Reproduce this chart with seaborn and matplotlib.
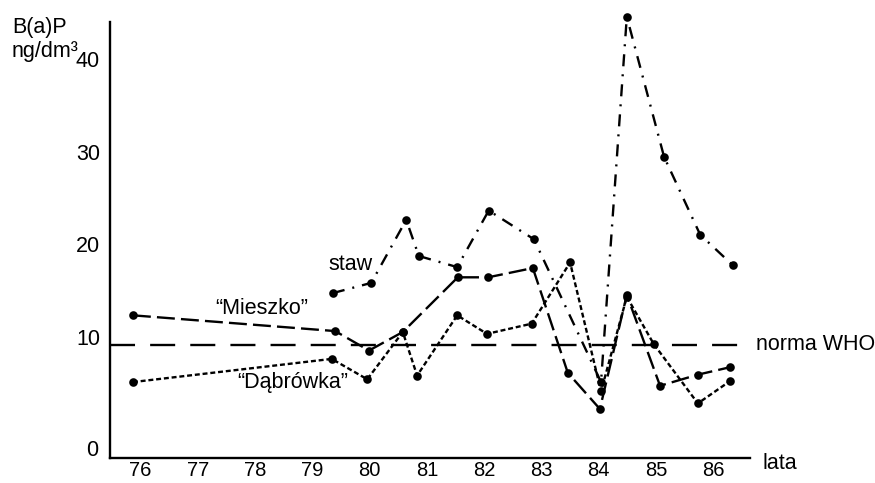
import matplotlib
matplotlib.use("Agg")
import matplotlib.pyplot as plt
import pandas as pd
import seaborn as sns

# ---- data ----
years_staw = [79.36, 80.03, 80.64, 80.86, 81.53, 82.08, 82.87, 84.04, 84.49, 85.14, 85.77, 86.34]
staw = [15.6, 16.7, 23.5, 19.6, 18.4, 24.5, 21.4, 6.0, 45.4, 30.3, 21.9, 18.6]

years_mieszko = [75.87, 79.40, 79.99, 80.58, 81.54, 82.07, 82.85, 83.46, 84.02, 84.49, 85.07, 85.73, 86.29]
mieszko = [13.2, 11.5, 9.4, 11.4, 17.3, 17.3, 18.3, 7.0, 3.1, 15.4, 5.6, 6.8, 7.6]

years_dabrowka = [75.87, 79.34, 79.96, 80.58, 80.83, 81.53, 82.05, 82.83, 83.50, 84.04, 84.49, 84.96, 85.73, 86.29]
dabrowka = [6.0, 8.5, 6.3, 11.4, 6.7, 13.2, 11.2, 12.3, 18.9, 5.0, 15.2, 10.1, 3.7, 6.1]

norma_who = 10
year_labels = list(range(76, 87))
y_ticks = [5, 10, 15, 20, 25, 30, 35, 40]
y_ticklabels = ["", "10", "", "20", "", "30", "", "40"]
series_names = ["staw", "Mieszko", "Dąbrówka"]

df = pd.concat([
    pd.DataFrame({"year": years_staw, "value": staw, "series": "staw"}),
    pd.DataFrame({"year": years_mieszko, "value": mieszko, "series": "Mieszko"}),
    pd.DataFrame({"year": years_dabrowka, "value": dabrowka, "series": "Dąbrówka"}),
], ignore_index=True)

# ---- style ----
sns.set_style("white")
plt.rcParams["font.family"] = ["Liberation Sans", "DejaVu Sans"]
plt.rcParams["ytick.alignment"] = "baseline"
FS = 15.5
LW = 1.7

fig = plt.figure(figsize=(8.75, 4.83), dpi=100)
ax = fig.add_axes([110 / 875, 25 / 483, 640 / 875, 436 / 483])

sns.lineplot(
    data=df, x="year", y="value", hue="series", style="series",
    hue_order=series_names, style_order=series_names,
    palette={s: "black" for s in series_names},
    dashes={"staw": (5.1, 3.4, 0.85, 3.4), "Mieszko": (7.6, 2.6), "Dąbrówka": (2.1, 1.2)},
    markers={s: "o" for s in series_names},
    markersize=6.2, markeredgewidth=0, linewidth=LW,
    estimator=None, legend=False, ax=ax,
)
for ln in ax.lines:
    ln.set_clip_on(False)

ax.axhline(norma_who, xmax=0.984, color="black", linewidth=LW, dashes=(10.6, 6.4))

ax.set_xlim(75.47, 86.64)
ax.set_ylim(-2.19, 44.84)

for side in ["top", "right"]:
    ax.spines[side].set_visible(False)
for side in ["left", "bottom"]:
    ax.spines[side].set_linewidth(1.7)
    ax.spines[side].set_color("black")

ax.set_xticks([y + 0.5 for y in year_labels])
ax.set_xticklabels([])
ax.set_xticks(year_labels, minor=True)
ax.set_xticklabels([str(y) for y in year_labels], minor=True)
ax.tick_params(axis="x", which="major", direction="out", length=4.5, width=1.8, color="black")
ax.tick_params(axis="x", which="minor", length=0, pad=2.5, labelsize=14.5, labelcolor="black")

ax.set_yticks(y_ticks)
ax.set_yticklabels(y_ticklabels)
ax.tick_params(axis="y", direction="out", length=4.7, width=1.8, pad=2.5, labelsize=FS,
               color="black", labelcolor="black")

ax.set_xlabel("")
ax.set_ylabel("")

# zero label (no tick at the corner)
ax.text(-12 / 640, -1.33, "0", transform=ax.get_yaxis_transform(), ha="right", va="center",
        fontsize=FS, color="black")

# annotations
ax.text(79.66, 18.1, "staw", ha="center", va="baseline", fontsize=FS, color="black")
ax.text(78.11, 13.34, "\u201cMieszko\u201d", ha="center", va="baseline", fontsize=FS, color="black")
ax.text(78.65, 5.36, "\u201cDąbrówka\u201d", ha="center", va="baseline", fontsize=FS, color="black")
ax.text(1.009, norma_who, "norma WHO", transform=ax.get_yaxis_transform(), ha="left", va="center",
        fontsize=FS, color="black")
ax.text(1.020, -0.0115, "lata", transform=ax.transAxes, ha="left", va="center",
        fontsize=FS, color="black")

fig.text(12 / 875, 1 - 27 / 483, "B(a)P", ha="left", va="center", fontsize=FS, color="black")
fig.text(12 / 875, 1 - 51 / 483, "ng/dm\u00b3", ha="left", va="center", fontsize=FS, color="black")

fig.savefig("out.png", dpi=100)
